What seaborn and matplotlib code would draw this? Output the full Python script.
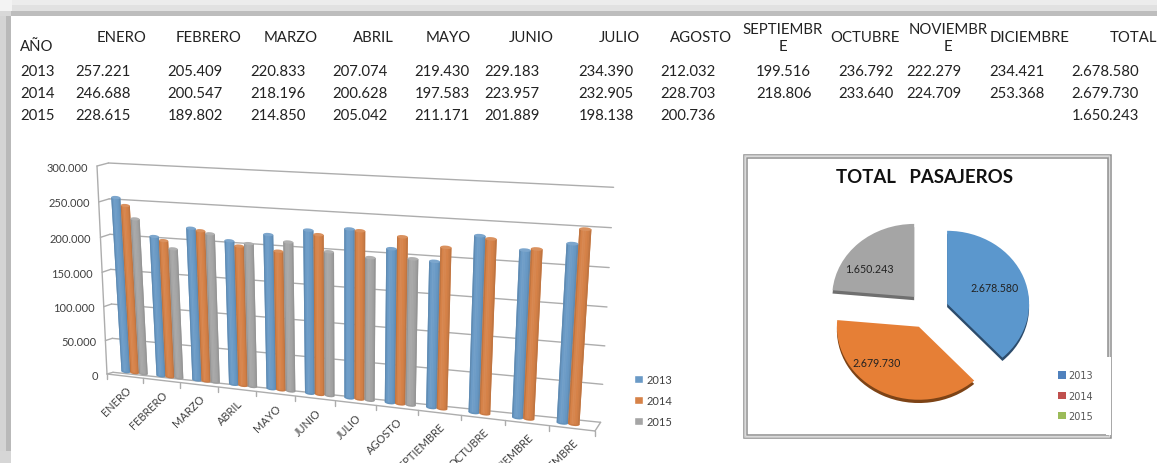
import numpy as np
import pandas as pd
import matplotlib
matplotlib.use("Agg")
import matplotlib.pyplot as plt
import seaborn as sns
from matplotlib.patches import Rectangle, Ellipse, Patch
from matplotlib.transforms import Affine2D, Transform

# ---------- data ----------
MONTHS = ["ENERO", "FEBRERO", "MARZO", "ABRIL", "MAYO", "JUNIO", "JULIO", "AGOSTO",
          "SEPTIEMBRE", "OCTUBRE", "NOVIEMBRE", "DICIEMBRE"]
TABLE_HEADERS = ["ENERO", "FEBRERO", "MARZO", "ABRIL", "MAYO", "JUNIO", "JULIO", "AGOSTO",
                 "SEPTIEMBR\nE", "OCTUBRE", "NOVIEMBR\nE", "DICIEMBRE", "TOTAL"]
YEARS = ["2013", "2014", "2015"]
V2013 = [257221, 205409, 220833, 207074, 219430, 229183, 234390, 212032, 199516, 236792, 222279, 234421]
V2014 = [246688, 200547, 218196, 200628, 197583, 223957, 232905, 228703, 218806, 233640, 224709, 253368]
V2015 = [228615, 189802, 214850, 205042, 211171, 201889, 198138, 200736, np.nan, np.nan, np.nan, np.nan]
TOTALS = [2678580, 2679730, 1650243]
Y_TICKS = [0, 50000, 100000, 150000, 200000, 250000, 300000]
BAR_COLORS = ["#5b9bd5", "#ed7d31", "#a5a5a5"]
PIE_COLORS = ["#5b97cd", "#e67f36", "#a5a5a5"]
PIE_SHADOW = ["#2c4c6c", "#7d4316", "#6f6f6f"]
PIE_LEGEND_COLORS = ["#4f81bd", "#c0504d", "#9bbb59"]


def es(v):
    return f"{int(v):,}".replace(",", ".")


W, H = 1157, 464
sns.set_theme(style="white")
plt.rcParams["font.family"] = ["Lato", "DejaVu Sans"]
fig = plt.figure(figsize=(W / 100, H / 100), dpi=100, facecolor="white")
PX = Affine2D().scale(1 / W, -1 / H).translate(0, 1) + fig.transFigure


class Homography(Transform):
    input_dims = output_dims = 2
    is_separable = False
    has_inverse = False

    def __init__(self, src, dst):
        super().__init__()
        A, b = [], []
        for (u, v), (x, y) in zip(src, dst):
            u, v = u, v / 300000
            A.append([u, v, 1, 0, 0, 0, -u * x, -v * x]); b.append(x)
            A.append([0, 0, 0, u, v, 1, -u * y, -v * y]); b.append(y)
        h = np.linalg.solve(np.array(A, float), np.array(b, float))
        self.m = np.append(h, 1).reshape(3, 3)

    def transform_non_affine(self, values):
        p = np.asarray(values, float)
        q = np.c_[p[:, 0], p[:, 1] / 300000, np.ones(len(p))] @ self.m.T
        return q[:, :2] / q[:, 2:]


def plane(u0, u1, bl, tl, br, tr):
    return Homography([(u0, 0), (u0, 300000), (u1, 0), (u1, 300000)], [bl, tl, br, tr]) + PX


BAR_PLANE = plane(-0.25, 11, (125.8, 372.7), (114, 168), (573.7, 425.3), (587.6, 192))
WALL = plane(-0.5, 11.5, (113, 373.3), (108.4, 164), (600.6, 423.3), (613.6, 188.3))
FRONT = plane(-0.5, 11.5, (107, 375), (97, 167), (595, 432), (608.6, 197))

# ---------- window frame ----------
bg = fig.add_axes([0, 0, 1, 1])
bg.set_xlim(0, W); bg.set_ylim(H, 0); bg.set_axis_off()
for x, y, w, h, c in [(0, 0, W, 6, "#ececec"), (0, 6, W, 6, "#e1e1e1"), (0, 12, W, 5, "#bdbdbd"),
                      (0, 17, 6, H - 17, "#d4d4d4"), (6, 17, 5, H - 17, "#b9b9b9"),
                      (0, 0, 12, 12, "#f3f3f3"), (0, 12, 11, 5, "#d8d8d8"),
                      (0, 452, 11, 12, "#d6d6d6")]:
    bg.add_patch(Rectangle((x, y), w, h, fc=c, lw=0))

# ---------- table ----------
TXT = "#222222"
bg.text(20, 47, "AÑO", fontsize=10.7, color=TXT, va="center")
HEADER_X = [121.7, 208.6, 291, 373, 448.5, 531, 619, 701, 783, 865, 948, 1030, 1133]
for x, t in zip(HEADER_X, TABLE_HEADERS):
    bg.text(x, 38.5, t, fontsize=10.7, color=TXT, ha="center", va="center", linespacing=1.25)
VALUE_X = [103, 195, 277.5, 360, 442, 511.6, 606, 688, 783.6, 866, 934, 1017, 1105]
ROW_Y = [71.7, 94.3, 116.3]
for yy, year, series, total in zip(ROW_Y, YEARS, [V2013, V2014, V2015], TOTALS):
    bg.text(20, yy, year, fontsize=10.7, color=TXT, va="center")
    for x, v in zip(VALUE_X, list(series) + [total]):
        if not np.isnan(v):
            bg.text(x, yy, es(v), fontsize=10.7, color=TXT, ha="center", va="center")

# ---------- perspective bar chart ----------
df = pd.DataFrame({"mes": MONTHS * 3,
                   "pasajeros": V2013 + V2014 + V2015,
                   "año": [y for y in YEARS for _ in MONTHS]})
ax = fig.add_axes([0, 0, 1, 1])
sns.barplot(data=df, x="mes", y="pasajeros", hue="año", palette=BAR_COLORS,
            order=MONTHS, hue_order=YEARS, width=0.75, gap=0, errorbar=None, ax=ax)
ax.patch.set_visible(False)
ax.set_axis_off()

GRID = "#adadad"
for v in Y_TICKS:
    ax.plot([-0.5, 11.5], [v, v], color=GRID, lw=1, transform=WALL, clip_on=False, zorder=1)
    xy_f = FRONT.transform((-0.5, v))
    xy_w = WALL.transform((-0.5, v))
    ax.plot([xy_f[0], xy_w[0]], [xy_f[1], xy_w[1]], color=GRID, lw=1,
            transform=None, clip_on=False, zorder=1)
    ax.annotate(es(v), xy=(-0.5, v), xycoords=FRONT, xytext=(-9, -1), textcoords="offset pixels",
                ha="right", va="center", fontsize=8, color="#404040")
ax.plot([-0.5, -0.5], [0, 300000], color=GRID, lw=1, transform=FRONT, clip_on=False, zorder=1)
ax.plot([-0.5, 11.5], [0, 0], color=GRID, lw=1, transform=FRONT, clip_on=False, zorder=1)
a, b = FRONT.transform((11.5, 0)), WALL.transform((11.5, 0))
ax.plot([a[0], b[0]], [a[1], b[1]], color=GRID, lw=1, transform=None, clip_on=False, zorder=1)
for u in np.arange(-0.5, 12):
    a = FRONT.transform((u, 0))
    ax.plot([a[0], a[0]], [a[1], a[1] - 5], color=GRID, lw=1, transform=None, clip_on=False, zorder=1)
for i, m in enumerate(MONTHS):
    ax.annotate(m, xy=(i, 0), xycoords=FRONT, xytext=(0, -8), textcoords="offset pixels",
                ha="right", va="top", rotation=45, rotation_mode="anchor",
                fontsize=7.9, color="#404040", annotation_clip=False)


def shade(c, f):
    rgb = np.array(matplotlib.colors.to_rgb(c))
    return tuple(np.clip(rgb * f if f <= 1 else rgb + (1 - rgb) * (f - 1), 0, 1))


STRIPS = [0.90, 1.0, 1.06, 1.04, 1.0, 0.97, 0.90]
for p in list(ax.patches):
    bh = p.get_height()
    if not np.isfinite(bh) or bh <= 0:
        p.set_visible(False)
        continue
    x0, bw, col = p.get_x(), p.get_width(), p.get_facecolor()
    p.set_transform(BAR_PLANE); p.set_clip_on(False); p.set_zorder(3); p.set_linewidth(0)
    ax.add_patch(Ellipse((x0 + bw / 2, 0), bw, 4500, fc=shade(col, 0.95), lw=0,
                         transform=BAR_PLANE, clip_on=False, zorder=3))
    for k, f in enumerate(STRIPS):
        ax.add_patch(Rectangle((x0 + bw * k / len(STRIPS), 0), bw / len(STRIPS) * 1.05, bh,
                               fc=shade(col, f), lw=0, transform=BAR_PLANE, clip_on=False, zorder=3))
    ax.add_patch(Ellipse((x0 + bw / 2, bh), bw, 4500, fc=shade(col, 1.12), lw=0,
                         transform=BAR_PLANE, clip_on=False, zorder=4))

sns.move_legend(ax, "center left", bbox_to_anchor=(634 / W, 1 - 401.5 / H), title=None,
                frameon=False, fontsize=8, handlelength=0.8, handleheight=0.8,
                handletextpad=0.3, labelspacing=0.9, labelcolor="#404040",
                borderpad=0, borderaxespad=0)

# ---------- pie ----------
bg.add_patch(Rectangle((743.5, 155.5), 367, 284, fill=False, ec="#8f8f8f", lw=1.1))
bg.add_patch(Rectangle((745, 157), 364, 281, fill=False, ec="#d0d0d0", lw=1.1))
bg.add_patch(Rectangle((746.5, 158.5), 361, 278, fill=False, ec="#8f8f8f", lw=1.1))
bg.add_patch(Rectangle((1106, 358), 4.5, 78, fc="white", lw=0))
bg.text(925, 178, "TOTAL   PASAJEROS", fontsize=13.4, fontweight="bold", color="#111111",
        ha="center", va="center")

cx, cy, sx, sy = 928, 311.4, 82, 73
pax = fig.add_axes([(cx - 2 * sx) / W, 1 - (cy + 2 * sy) / H, 4 * sx / W, 4 * sy / H])
EXPLODE = [0.25, 0.25, 0.25]
pax.pie(TOTALS, colors=PIE_SHADOW, startangle=90, counterclock=False, explode=EXPLODE,
        center=(0, -0.045), wedgeprops={"linewidth": 0})
pax.pie(TOTALS, colors=PIE_COLORS, startangle=90, counterclock=False, explode=EXPLODE,
        wedgeprops={"linewidth": 0})
pax.set_aspect("auto")
pax.set_xlim(-2, 2); pax.set_ylim(-2, 2)
pax.patch.set_visible(False)
for (lx, ly), v in zip([(0.817, 0.32), (-0.622, -0.71), (-0.71, 0.57)], TOTALS):
    pax.text(lx, ly, es(v), fontsize=7.7, color="#222222", ha="center", va="center")
leg = bg.legend(handles=[Patch(fc=c, ec="none", label=y) for c, y in zip(PIE_LEGEND_COLORS, YEARS)],
                loc="center left", bbox_to_anchor=(1058 / W, 1 - 396.7 / H),
                bbox_transform=fig.transFigure, frameon=False,
                prop={"family": "DejaVu Sans", "size": 7}, handlelength=0.82, handleheight=0.82,
                handletextpad=0.25, labelspacing=1.05, labelcolor="#555555",
                borderpad=0, borderaxespad=0)

fig.savefig("out.png", dpi=100, facecolor="white")
